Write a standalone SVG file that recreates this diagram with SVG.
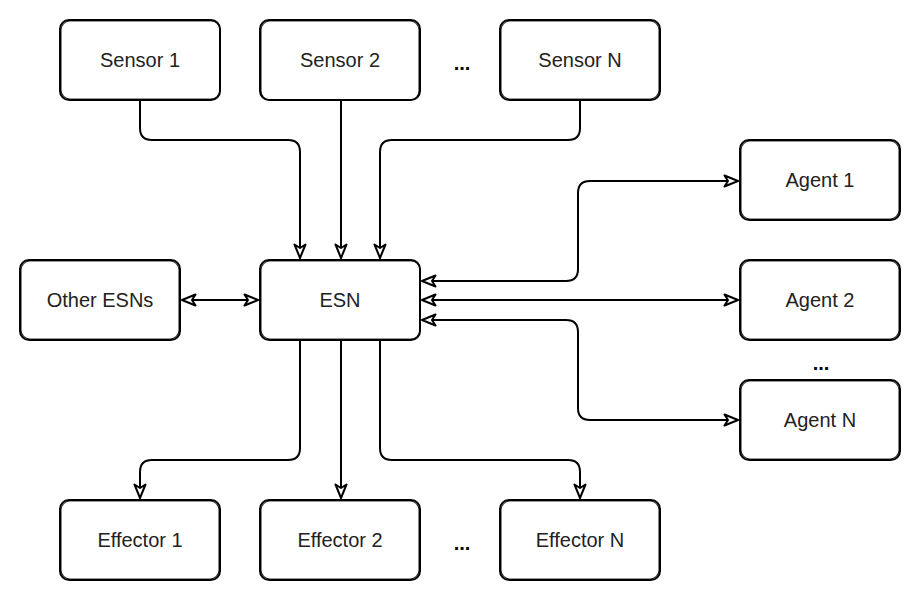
<svg xmlns="http://www.w3.org/2000/svg" width="922" height="602" viewBox="0 0 922 602">
<style>
.box{fill:#fff;stroke:#000;stroke-width:2;stroke-linejoin:round}
.box2{fill:none;stroke:#000;stroke-width:1.2;opacity:0.8}
.lbl{font-family:"Liberation Sans",Arial,sans-serif;font-size:20px;fill:#222;text-anchor:middle;dominant-baseline:central}
.dots{font-family:"Liberation Sans",Arial,sans-serif;font-size:20px;font-weight:bold;fill:#000;text-anchor:middle}
.wire{fill:none;stroke:#000;stroke-width:2;stroke-linejoin:round}
</style>
<defs>
<marker id="ah" viewBox="0 0 16 14" refX="15" refY="7" markerWidth="16" markerHeight="14" markerUnits="userSpaceOnUse" orient="auto-start-reverse">
<path d="M1.5,1.5 L15,7 L1.5,12.5 L5,7 Z" fill="#fff" stroke="#000" stroke-width="2" stroke-linejoin="round"/>
</marker>
</defs>
<g id="connectors">
<path class="wire" d="M140,100 V128 Q140,140 152,140 H288 Q300,140 300,152 V258" marker-end="url(#ah)"/>
<path class="wire" d="M341,100 V258" marker-end="url(#ah)"/>
<path class="wire" d="M580,100 V128 Q580,140 568,140 H392 Q380,140 380,152 V258" marker-end="url(#ah)"/>
<path class="wire" d="M182,300 H258" marker-start="url(#ah)" marker-end="url(#ah)"/>
<path class="wire" d="M422,281 H566 Q578,281 578,269 V193 Q578,181 590,181 H738" marker-start="url(#ah)" marker-end="url(#ah)"/>
<path class="wire" d="M422,300 H738" marker-start="url(#ah)" marker-end="url(#ah)"/>
<path class="wire" d="M422,320 H566 Q578,320 578,332 V408 Q578,420 590,420 H738" marker-start="url(#ah)" marker-end="url(#ah)"/>
<path class="wire" d="M300,340 V448 Q300,460 288,460 H152 Q140,460 140,472 V498" marker-end="url(#ah)"/>
<path class="wire" d="M341,340 V498" marker-end="url(#ah)"/>
<path class="wire" d="M380,340 V448 Q380,460 392,460 H568 Q580,460 580,472 V498" marker-end="url(#ah)"/>
</g>
<g id="sensor1"><rect class="box" x="60" y="20" width="160" height="80" rx="9"/><rect class="box2" x="61" y="21" width="159" height="78" rx="9"/><text class="lbl" x="140" y="60">Sensor 1</text></g>
<g id="sensor2"><rect class="box" x="260" y="20" width="160" height="80" rx="9"/><rect class="box2" x="261" y="21" width="158" height="79" rx="9"/><text class="lbl" x="340" y="60">Sensor 2</text></g>
<g id="sensorN"><rect class="box" x="500" y="20" width="160" height="80" rx="9"/><rect class="box2" x="501" y="21" width="158" height="78" rx="9"/><text class="lbl" x="580" y="60">Sensor N</text></g>
<text class="dots" x="462" y="70">...</text>
<g id="other-esns"><rect class="box" x="20" y="260" width="160" height="80" rx="9"/><rect class="box2" x="21" y="261" width="158" height="78" rx="9"/><text class="lbl" x="100" y="300">Other ESNs</text></g>
<g id="esn"><rect class="box" x="260" y="260" width="160" height="80" rx="9"/><rect class="box2" x="261" y="261" width="159" height="78" rx="9"/><text class="lbl" x="340" y="300">ESN</text></g>
<g id="agent1"><rect class="box" x="740" y="140" width="160" height="80" rx="9"/><rect class="box2" x="741" y="141" width="158" height="78" rx="9"/><text class="lbl" x="820" y="180">Agent 1</text></g>
<g id="agent2"><rect class="box" x="740" y="260" width="160" height="80" rx="9"/><rect class="box2" x="741" y="261" width="158" height="78" rx="9"/><text class="lbl" x="820" y="300">Agent 2</text></g>
<text class="dots" x="821" y="370">...</text>
<g id="agentN"><rect class="box" x="740" y="380" width="160" height="80" rx="9"/><rect class="box2" x="741" y="381" width="158" height="78" rx="9"/><text class="lbl" x="820" y="420">Agent N</text></g>
<g id="effector1"><rect class="box" x="60" y="500" width="160" height="80" rx="9"/><rect class="box2" x="61" y="501" width="158" height="78" rx="9"/><text class="lbl" x="140" y="540">Effector 1</text></g>
<g id="effector2"><rect class="box" x="260" y="500" width="160" height="80" rx="9"/><rect class="box2" x="261" y="501" width="158" height="78" rx="9"/><text class="lbl" x="340" y="540">Effector 2</text></g>
<text class="dots" x="462" y="550">...</text>
<g id="effectorN"><rect class="box" x="500" y="500" width="160" height="80" rx="9"/><rect class="box2" x="501" y="501" width="158" height="78" rx="9"/><text class="lbl" x="580" y="540">Effector N</text></g>
</svg>
